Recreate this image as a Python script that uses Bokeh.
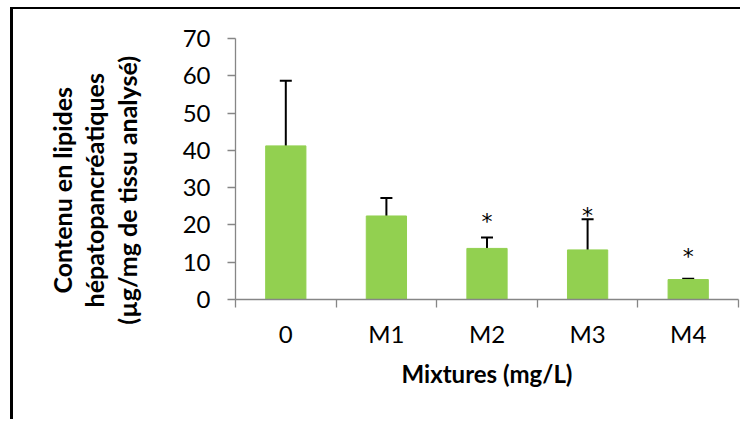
from bokeh.plotting import figure
from bokeh.models import ColumnDataSource, FixedTicker, Whisker, TeeHead, Range1d, LinearAxis
from bokeh.core.properties import value
from bokeh.embed import file_html
from bokeh.resources import INLINE

# ---- data ----
categories = ["0", "M1", "M2", "M3", "M4"]
lipid_mean = [41.2, 22.4, 13.7, 13.3, 5.35]
lipid_sd = [17.5, 4.8, 2.9, 8.2, 0.2]
significant = [False, False, True, True, True]
star_level = [0, 0, 22.0, 23.6, 12.5]   # centre height (data units) of the "*" markers
y_ticks = [0, 10, 20, 30, 40, 50, 60, 70]
x_title = "Mixtures (mg/L)"
y_title_lines = ["Contenu en lipides", "hépatopancréatiques", "(µg/mg de tissu analysé)"]

FONT = "Lato"
GREEN = "#92D050"
AXIS_GREY = "#868686"
TEXT = "black"

centers = [i + 0.5 for i in range(len(categories))]
bounds = [float(i) for i in range(len(categories) + 1)]

src = ColumnDataSource(dict(
    x=centers,
    mean=lipid_mean,
    hi=[m + s for m, s in zip(lipid_mean, lipid_sd)],
))

p = figure(width=730, height=412, output_backend="svg", toolbar_location=None,
           x_range=Range1d(0, len(categories)), y_range=Range1d(0, 70),
           min_border_left=222, min_border_right=5, min_border_top=29, min_border_bottom=122)
p.styles = {"border-left": "3px solid black", "border-top": "2px solid black",
            "margin-left": "10px", "margin-top": "7px"}
p.outline_line_color = None
p.xgrid.visible = False
p.ygrid.visible = False
p.background_fill_color = "white"
p.border_fill_color = "white"

p.vbar(x="x", top="mean", bottom=0, width=0.4, source=src,
       fill_color=GREEN, line_color=GREEN)

w = Whisker(source=src, base="x", lower="mean", upper="hi",
            line_color="black", line_width=2,
            lower_head=None,
            upper_head=TeeHead(size=12, line_color="black", line_width=2))
p.add_layout(w)

sx = [c for c, s in zip(centers, significant) if s]
sy = [v for v, s in zip(star_level, significant) if s]
p.text(x=sx, y=sy, text=["*"] * len(sx), text_align="center", text_baseline="alphabetic",
       y_offset=4, text_font=value("DejaVu Sans"), text_font_size="22px", text_color="black")

# y axis
ya = p.yaxis[0]
ya.ticker = FixedTicker(ticks=y_ticks)
ya.axis_line_color = AXIS_GREY
ya.axis_line_width = 1.3
ya.major_tick_line_color = AXIS_GREY
ya.major_tick_line_width = 1.3
ya.major_tick_out = 8
ya.major_tick_in = 0
ya.minor_tick_line_color = None
ya.major_label_text_font = FONT
ya.major_label_text_font_size = "24px"
ya.major_label_text_color = TEXT
ya.major_label_standoff = 17

# second (title-only) axis on the left; the no-break spaces push the centred
# block a little lower, as in the original layout
pad = "\u00a0" * 7
y_title = "\n".join(line + pad for line in y_title_lines)
ta = LinearAxis(ticker=FixedTicker(ticks=[]),
                axis_line_color=None, major_tick_line_color=None, minor_tick_line_color=None,
                major_tick_out=0, major_tick_in=0, major_label_text_font_size="0px",
                axis_label=y_title, axis_label_text_font=FONT,
                axis_label_text_font_size="25px", axis_label_text_font_style="bold",
                axis_label_text_color="black", axis_label_text_line_height=1.07,
                axis_label_standoff=38)
p.add_layout(ta, "left")

# x axis
xa = p.xaxis[0]
xa.ticker = FixedTicker(ticks=centers, minor_ticks=bounds)
xa.major_label_overrides = {c: lab for c, lab in zip(centers, categories)}
xa.axis_line_color = AXIS_GREY
xa.axis_line_width = 1.3
xa.major_tick_line_color = None
xa.major_tick_out = 0
xa.major_tick_in = 0
xa.minor_tick_line_color = AXIS_GREY
xa.minor_tick_line_width = 1.3
xa.minor_tick_out = 8
xa.minor_tick_in = 0
xa.major_label_text_font = FONT
xa.major_label_text_font_size = "24px"
xa.major_label_text_color = TEXT
xa.major_label_standoff = 11
xa.axis_label = x_title
xa.axis_label_text_font = FONT
xa.axis_label_text_font_size = "24px"
xa.axis_label_text_font_style = "bold"
xa.axis_label_text_color = "black"
xa.axis_label_standoff = 8

open("out.html", "w").write(file_html(p, INLINE))
